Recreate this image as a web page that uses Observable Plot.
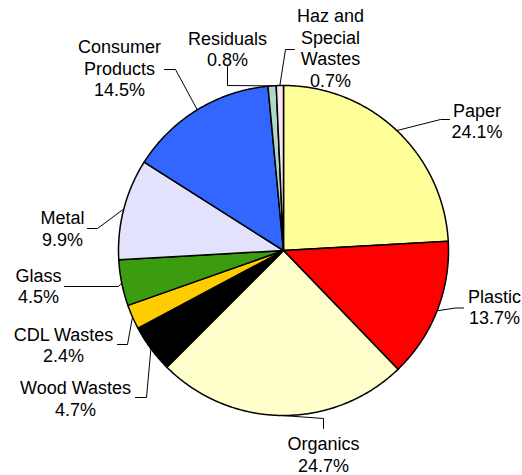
<!DOCTYPE html>
<html>
<head>
<meta charset="utf-8">
<script src="https://cdn.jsdelivr.net/npm/d3@7"></script>
<script src="https://cdn.jsdelivr.net/npm/@observablehq/plot@0.6"></script>
<style>
  html, body { margin: 0; padding: 0; background: #fff; }
  #chart svg { display: block; }
</style>
</head>
<body>
<div id="chart"></div>
<script>
// ---- Data ----
const categories = ["Paper", "Plastic", "Organics", "Wood Wastes", "CDL Wastes", "Glass", "Metal", "Consumer Products", "Residuals", "Haz and Special Wastes"];
const values = [24.1, 13.7, 24.7, 4.7, 2.4, 4.5, 9.9, 14.5, 0.8, 0.7];
const labelLines = [["Paper"], ["Plastic"], ["Organics"], ["Wood Wastes"], ["CDL Wastes"], ["Glass"], ["Metal"], ["Consumer", "Products"], ["Residuals"], ["Haz and", "Special", "Wastes"]];

// ---- Styles ----
const colors = ["#FFFF99", "#FF0000", "#FFFFCC", "#000000", "#FFCC00", "#3C9C10", "#E2E2FC", "#3366FF", "#B0D8C6", "#FAE4F0"];

// ---- Layout (pixels) ----
const W = 522, H = 475, CX = 283, CY = 250, R = 165, LH = 21.6;
const labelAnchor = [[476.5, 116], [494, 302], [323, 449.5], [75, 393.5], [63, 340], [38, 281], [62, 223.5], [119, 52.5], [227, 44.3], [330, 21.7]];
const leaderBends = [
  [[440, 119], [449, 119]],
  [[455, 307.5], [463, 307.5]],
  [[323, 418], [323, 428]],
  [[146, 397], [135, 397]],
  [[127, 344], [117, 344]],
  [[118, 286], [64, 286]],
  [[97, 228], [87, 228]],
  [[175, 69], [164, 69]],
  [[227, 85], [227, 66]],
  [[285, 49], [294, 49]]
];
const ux = (px) => (px - CX) / R;
const uy = (py) => (CY - py) / R;

// ---- Build geometry from values ----
const arcs = d3.pie().sort(null).value(d => d)(values);
const slicePts = [];
const leaderPts = [];
const textRows = [];
arcs.forEach((a, i) => {
  slicePts.push({k: i, x: 0, y: 0, c: colors[i]});
  const n = Math.max(2, Math.ceil((a.endAngle - a.startAngle) / (Math.PI / 360)));
  for (let j = 0; j <= n; j++) {
    const t = a.startAngle + (a.endAngle - a.startAngle) * j / n;
    slicePts.push({k: i, x: Math.sin(t), y: Math.cos(t), c: colors[i]});
  }
  const m = (a.startAngle + a.endAngle) / 2;
  leaderPts.push({k: i, x: Math.sin(m), y: Math.cos(m)});
  leaderBends[i].forEach(([px, py]) => leaderPts.push({k: i, x: ux(px), y: uy(py)}));
  const lines = labelLines[i].concat([values[i].toFixed(1) + "%"]);
  lines.forEach((s, j) => {
    textRows.push({x: ux(labelAnchor[i][0]), y: uy(labelAnchor[i][1] + j * LH), text: s});
  });
});

const chart = Plot.plot({
  width: W,
  height: H,
  margin: 0,
  x: {domain: [ux(0), ux(W)], axis: null},
  y: {domain: [uy(H), uy(0)], axis: null},
  color: {type: "identity"},
  style: {fontFamily: "'Liberation Sans', Arial, sans-serif", background: "#fff"},
  marks: [
    Plot.line(slicePts, {x: "x", y: "y", z: "k", fill: "c", stroke: "#000", strokeWidth: 1.5, curve: "linear-closed", strokeLinejoin: "round"}),
    Plot.line(leaderPts, {x: "x", y: "y", z: "k", stroke: "#000", strokeWidth: 1, curve: "linear"}),
    Plot.text(textRows, {x: "x", y: "y", text: "text", lineAnchor: "bottom", textAnchor: "middle", fontSize: 18, fill: "#000"})
  ]
});
document.getElementById("chart").appendChild(chart);
</script>
</body>
</html>
